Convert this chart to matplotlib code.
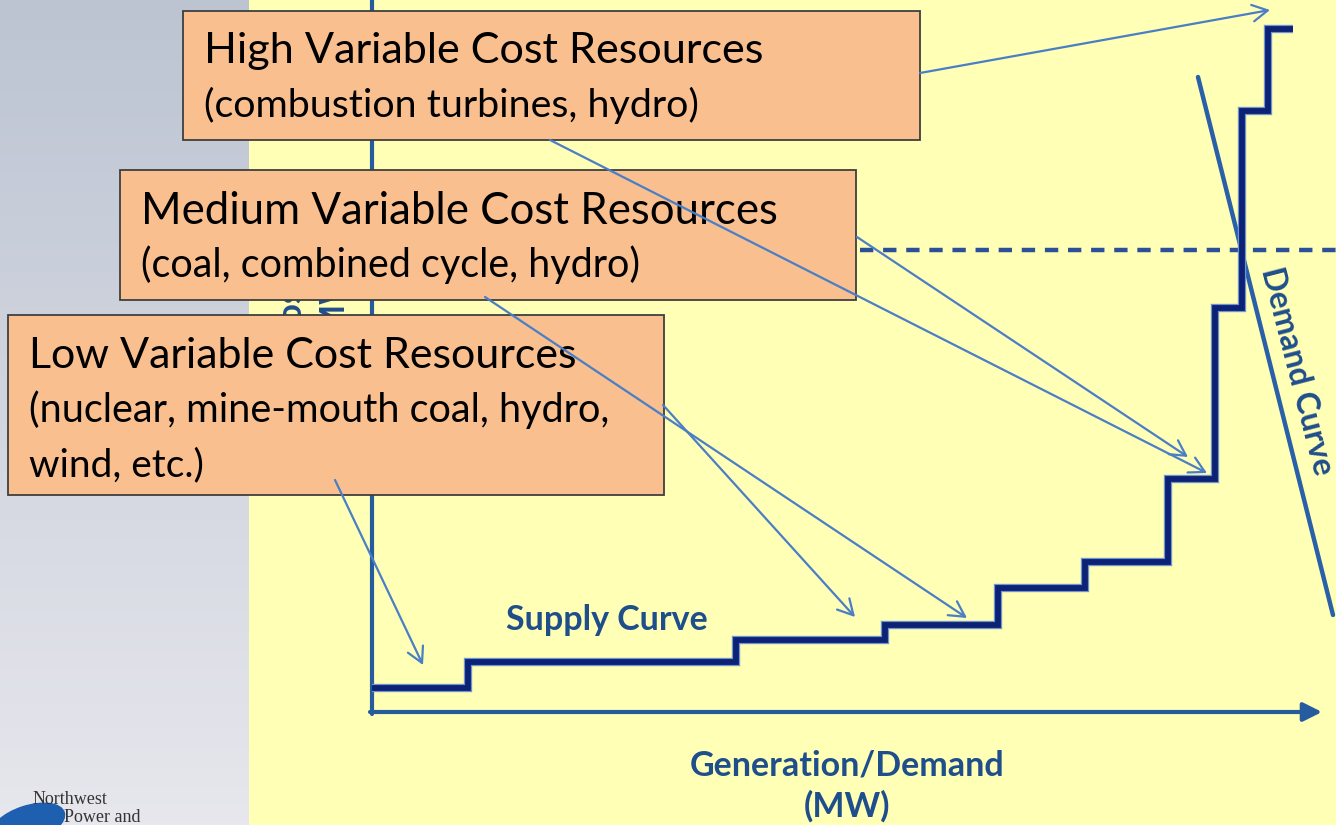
import matplotlib
matplotlib.use("Agg")
import matplotlib.pyplot as plt
import matplotlib.patheffects as pe
from matplotlib.patches import Rectangle, Ellipse
import numpy as np

############################################
## Data (chart units, origin at the axes corner)
############################################

# supply curve: step edges along generation axis and the cost level of each step
supply_edges = [0, 96, 364, 513, 626, 713, 796, 843, 870, 896, 921]
supply_costs = [24, 50, 72, 87, 124, 150, 233, 404, 601, 683]

# demand curve end points
demand_x = [826, 961]
demand_y = [635, 97]

# market clearing price (dashed line)
clearing_price = 462
clearing_x = [488, 964]

box_titles = ["High Variable Cost Resources",
              "Medium Variable Cost Resources",
              "Low Variable Cost Resources"]
box_details = [["(combustion turbines, hydro)"],
               ["(coal, combined cycle, hydro)"],
               ["(nuclear, mine-mouth coal, hydro,", "wind, etc.)"]]

# arrows point at these spots on the supply curve
arrow_targets_x = [898, 835, 816, 595, 483, 51]
arrow_targets_y = [702, 239, 255, 94, 95, 47]

x_label = "Generation/Demand\n(MW)"
y_label = "Cost\n($/MWh)"

############################################
## Styles
############################################

W, H = 1336, 825
yellow = "#FFFFB5"
box_face = "#F9BF8F"
label_blue = "#1F4E8C"
navy = "#0E2275"
axis_blue = "#255C9E"
arrow_blue = "#4A7EC6"
font = "Lato"

fig = plt.figure(figsize=(W / 100, H / 100), dpi=100)
fig.patch.set_facecolor(yellow)

# background layer, pixel coordinates
ax_bg = fig.add_axes([0, 0, 1, 1], zorder=0)
ax_bg.set_xlim(0, W)
ax_bg.set_ylim(H, 0)
ax_bg.axis("off")
ax_bg.add_patch(Rectangle((0, 0), W, H, color=yellow, zorder=0))
top = np.array([188, 196, 210]) / 255
bot = np.array([231, 231, 237]) / 255
t = np.linspace(0, 1, 256)[:, None, None]
grad = top * (1 - t) + bot * t
grad = np.repeat(grad, 2, axis=1)
ax_bg.imshow(grad, extent=(0, 249, H, 0), aspect="auto", zorder=1)

# logo remnant, bottom left
ax_bg.add_patch(Ellipse((28, 824), 76, 36, angle=-18, color="#1F5FAF", zorder=2))
ax_bg.text(33, 800, "Northwest", family="Liberation Serif", fontsize=13,
           color="#333333", va="center", zorder=3)
ax_bg.text(64, 818, "Power and", family="Liberation Serif", fontsize=13,
           color="#333333", va="center", zorder=3)

############################################
## Chart layer
############################################

ax = fig.add_axes([0, 0, 1, 1], zorder=1)
ax.set_xlim(-372, W - 372)
ax.set_ylim(712 - H, 712)
ax.axis("off")
ax.patch.set_alpha(0)

# axes lines
ax.plot([0, 0], [-2, 730], color=axis_blue, lw=3.0, solid_capstyle="round", zorder=2)
ax.annotate("", xy=(950, 0), xytext=(-2, 0),
            arrowprops=dict(arrowstyle="-|>", color=axis_blue, lw=3.0,
                            mutation_scale=28, shrinkA=0, shrinkB=0), zorder=2)

# clearing price
ax.plot(clearing_x, [clearing_price, clearing_price], color="#2B4F98", lw=3.2,
        dashes=(3.0, 2.2), zorder=2)

# demand curve
ax.plot(demand_x, demand_y, color="#2A60AA", lw=3.2, solid_capstyle="round", zorder=3)

# supply curve
ax.stairs(supply_costs, supply_edges, baseline=None, color=navy, lw=4.2, zorder=4,
          path_effects=[pe.Stroke(linewidth=6.0, foreground="#6E95D2"), pe.Normal()])

lab = dict(family=font, fontweight="bold", color=label_blue, fontsize=24.5)
ax.text(235, 92, "Supply Curve", ha="center", va="center", **lab)
ax.text(475, -74, x_label, ha="center", va="center", linespacing=1.3, **lab)
ax.text(925, 341, "Demand Curve", ha="center", va="center", rotation=-75.5,
        rotation_mode="anchor", family=font, fontweight="bold",
        color=label_blue, fontsize=23)
ax.text(-60, 404, y_label, ha="center", va="center", rotation=90,
        linespacing=1.3, **lab)

############################################
## Boxes and arrows layer (pixel coordinates)
############################################

ax_top = fig.add_axes([0, 0, 1, 1], zorder=2)
ax_top.set_xlim(0, W)
ax_top.set_ylim(H, 0)
ax_top.axis("off")
ax_top.patch.set_alpha(0)

boxes = [(183, 11, 737, 129), (120, 170, 736, 130), (8, 315, 656, 180)]
title_y = [51, 212, 356]
title_w = [560, 637, 550]
detail_y = [[105], [265], [410, 465]]
detail_w = [[495], [500], [580, 175]]

fig.canvas.draw()
renderer = fig.canvas.get_renderer()


def fit(txt, target):
    # scale font size so the rendered text has the target width in pixels
    w = txt.get_window_extent(renderer).width
    txt.set_fontsize(txt.get_fontsize() * target / w)


for i, (bx, by, bw, bh) in enumerate(boxes):
    ax_top.add_patch(Rectangle((bx, by), bw, bh, facecolor=box_face,
                               edgecolor="#3F3F3F", lw=1.3, zorder=1))
    tt = ax_top.text(bx + 21, title_y[i], box_titles[i], family=font,
                     fontsize=28, va="center", color="black", zorder=2)
    fit(tt, title_w[i])
    for j, line in enumerate(box_details[i]):
        td = ax_top.text(bx + 21, detail_y[i][j], line, family=font,
                         fontsize=21, va="center", color="black", zorder=2)
        fit(td, detail_w[i][j])

arrow_sources = [(920, 73), (550, 140), (857, 237), (485, 297), (663, 405), (335, 480)]
for (sx, sy), tx, ty in zip(arrow_sources, arrow_targets_x, arrow_targets_y):
    ax_top.annotate("", xy=(tx, ty), xycoords=ax.transData,
                    xytext=(sx, sy), textcoords="data",
                    arrowprops=dict(arrowstyle="->,head_length=0.55,head_width=0.3",
                                    color=arrow_blue, lw=1.6, mutation_scale=20,
                                    shrinkA=0, shrinkB=0), zorder=3)

fig.savefig("out.png", dpi=100, facecolor=yellow)
